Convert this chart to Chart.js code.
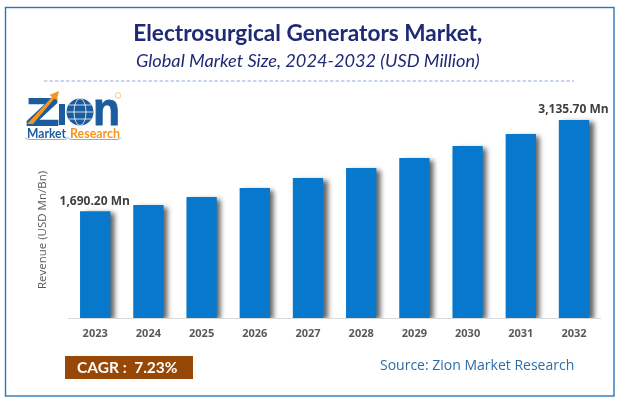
<!DOCTYPE html>
<html><head><meta charset="utf-8">
<style>html,body{margin:0;padding:0;background:#fff;overflow:hidden}
#wrap{position:relative;width:619px;height:404px}
canvas{position:absolute;left:0;top:0}
#logo{position:absolute;left:0;top:0}
</style>
<script src="https://cdn.jsdelivr.net/npm/chart.js@4/dist/chart.umd.min.js"></script>
</head><body>
<div id="wrap"><canvas id="c" width="619" height="404"></canvas>
<svg id="logo" width="619" height="404" viewBox="0 0 619 404">
<g>
<text x="26.5" y="125" font-family="Liberation Sans" font-weight="bold" font-size="37" fill="#1a5c9e" stroke="#1a5c9e" stroke-width="2" textLength="32" lengthAdjust="spacingAndGlyphs">Z</text>
<path d="M27 124 L52 97 L49.5 95 L59 91 L56.5 100.5 L54.5 98.5 L33 124 Z" fill="#f7941e"/>
<rect x="59" y="104" width="6" height="21" fill="#1a5c9e"/>
<circle cx="80" cy="112" r="13.5" fill="#1a5c9e"/>
<g fill="none" stroke="#fff" stroke-width=".8"><ellipse cx="80" cy="112" rx="6" ry="13.5"/><path d="M67 112H93M69 105H91M69 119H91"/></g>
<text x="93" y="125" font-family="Liberation Sans" font-weight="bold" font-size="46" fill="#1a5c9e" stroke="#1a5c9e" stroke-width="1" textLength="27" lengthAdjust="spacingAndGlyphs">n</text>
<text x="27" y="137.5" font-family="Lato" font-weight="bold" font-size="13.5" fill="#1a5c9e" textLength="39" lengthAdjust="spacingAndGlyphs">Market</text>
<text x="70" y="137.5" font-family="Lato" font-weight="bold" font-size="13.5" fill="#f7941e" textLength="50" lengthAdjust="spacingAndGlyphs">Research</text>
<path d="M25 137.5Q26 139.5 30 139.5H64Q67 139.5 68 137.5Q69 139.5 72 139.5H117Q120 139.5 121 137.5" fill="none" stroke="#7db3dd" stroke-width="1"/>
<circle cx="118" cy="95.5" r="2.8" fill="none" stroke="#f5b97a" stroke-width=".8"/>
</g></svg></div>
<script>
const categories = ["2023","2024","2025","2026","2027","2028","2029","2030","2031","2032"];
const revenue = [1690.2,1790,1917,2059,2218,2376,2534,2725,2915,3135.7];
const valueLabels = {0:"1,690.20 Mn",9:"3,135.70 Mn"};
const titleText = "Electrosurgical Generators Market,";
const subtitleText = "Global Market Size, 2024-2032 (USD Million)";
const yTitle = "Revenue (USD Mn/Bn)";
const cagrText = "CAGR :  7.23%";
const sourceText = "Source: Zion Market Research";

const decor = {
  id:'decor',
  beforeDraw(ch){
    const c=ch.ctx; c.save();
    c.fillStyle='#fff'; c.fillRect(0,0,619,404);
    c.strokeStyle='#2e75b6'; c.lineWidth=1.4; c.strokeRect(5.5,7.5,608.5,388.5);
    c.strokeStyle='#8eaadb'; c.lineWidth=1; c.setLineDash([3.4,2.1]);
    c.beginPath(); c.moveTo(44,81); c.lineTo(574,81); c.stroke(); c.setLineDash([]);
    c.restore();
  },
  beforeDatasetDraw(ch){
    const c=ch.ctx; c.save();
    c.shadowColor='rgba(0,0,0,.62)'; c.shadowBlur=5; c.shadowOffsetX=4.5; c.shadowOffsetY=2;
  },
  afterDatasetDraw(ch){ ch.ctx.restore(); },
  afterDatasetsDraw(ch){
    const c=ch.ctx, meta=ch.getDatasetMeta(0); c.save();
    c.fillStyle='#404040'; c.font='bold 12px "Open Sans"'; c.textAlign='center'; c.textBaseline='middle';
    Object.keys(valueLabels).forEach(i=>{const el=meta.data[i]; c.fillText(valueLabels[i],el.x-0.5,el.y-10);});
    c.save(); c.translate(43,230); c.rotate(-Math.PI/2);
    c.fillStyle='#595959'; c.font='11.5px "Open Sans"'; c.fillText(yTitle,0,0); c.restore();
    c.fillStyle='#974706'; c.fillRect(65,356,128,23);
    c.fillStyle='#fff'; c.font='bold 15.5px Lato'; c.textAlign='left'; c.fillText(cagrText,77,368);
    c.fillStyle='#2e6da4'; c.font='14px "Open Sans"'; c.fillText(sourceText,380,366);
    c.restore();
  }
};

new Chart(document.getElementById('c'),{
  type:'bar',
  data:{labels:categories,datasets:[{data:revenue,backgroundColor:'#0878cc',borderWidth:0,barPercentage:.57,categoryPercentage:1}]},
  options:{
    responsive:false,animation:false,devicePixelRatio:1,
    layout:{padding:{left:15,right:18.4,top:20,bottom:50}},
    plugins:{
      legend:{display:false},tooltip:{enabled:false},
      title:{display:true,text:titleText,color:'#1f2a75',font:{family:'Lato',size:22.6,weight:'bold'},padding:{top:0,bottom:3}},
      subtitle:{display:true,text:subtitleText,color:'#1f2a75',font:{family:'Lato',size:18.2,style:'italic',weight:'normal'},padding:{top:0,bottom:28.2}}
    },
    scales:{
      x:{grid:{display:false,drawTicks:false},border:{color:'#d9d9d9',width:1},
         ticks:{color:'#595959',font:{family:'Open Sans',size:11,weight:'bold'},padding:9,maxRotation:0},
         afterFit(s){s.height=36;}},
      y:{display:true,min:0,max:3450,grid:{display:false,drawTicks:false},border:{display:false},ticks:{display:false},
         afterFit(s){s.width=53.6;}}
    }
  },
  plugins:[decor]
});
</script></body></html>
